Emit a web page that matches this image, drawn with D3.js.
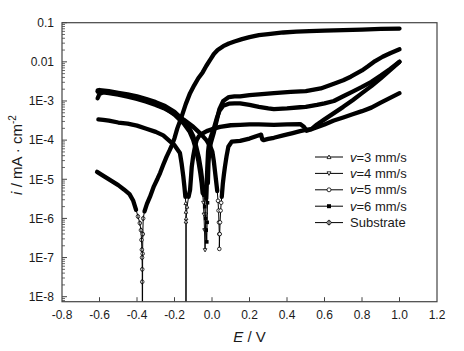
<!DOCTYPE html>
<html><head><meta charset="utf-8">
<script src="https://cdn.jsdelivr.net/npm/d3@7"></script>
<style>body{margin:0;background:#fff}svg{display:block}text{font-family:"Liberation Sans",Arial,sans-serif;fill:#1a1a1a}</style>
</head><body>
<svg id="c" width="464" height="351"></svg>
<script>
// ---- data: [E (V), log10(i / mA cm^-2)] ----
const xTickValues = [-0.8,-0.6,-0.4,-0.2,0.0,0.2,0.4,0.6,0.8,1.0,1.2];
const yTickValues = [1e-8,1e-7,1e-6,1e-5,1e-4,1e-3,0.01,0.1];
const yTickLabels = ["1E-8","1E-7","1E-6","1E-5","1E-4","1E-3","0.01","0.1"];
const seriesNames = ["v=3 mm/s","v=4 mm/s","v=5 mm/s","v=6 mm/s","Substrate"];

const v3 = [[-0.606,-3.47],[-0.58,-3.48],[-0.55,-3.50],[-0.5,-3.55],[-0.45,-3.58],[-0.4,-3.63],[-0.35,-3.71],[-0.3,-3.79],[-0.26,-3.88],[-0.224,-4.03],[-0.2,-4.13],[-0.187,-4.22],[-0.171,-4.33],[-0.162,-4.6],[-0.153,-4.93],[-0.147,-5.2],[-0.142,-5.45],[-0.140,-5.61],[-0.139,-5.83],[-0.139,-6.08],[-0.139,-10],[-0.138,-6.0],[-0.133,-5.7],[-0.125,-5.45],[-0.117,-5.27],[-0.112,-4.95],[-0.108,-4.68],[-0.1,-4.4],[-0.091,-4.17],[-0.082,-4.0],[-0.07,-3.9],[-0.05,-3.83],[-0.028,-3.77],[0.0,-3.72],[0.043,-3.66],[0.1,-3.62],[0.15,-3.61],[0.2,-3.6],[0.25,-3.6],[0.33,-3.61],[0.4,-3.6],[0.47,-3.59],[0.49,-3.66],[0.505,-3.76],[0.53,-3.72],[0.56,-3.6],[0.6,-3.47],[0.65,-3.31],[0.7,-3.15],[0.75,-2.98],[0.8,-2.8],[0.85,-2.62],[0.9,-2.42],[0.95,-2.21],[1.0,-2.0]];

const v4 = [[-0.61,-2.73],[-0.58,-2.76],[-0.55,-2.78],[-0.5,-2.82],[-0.45,-2.86],[-0.4,-2.92],[-0.35,-2.98],[-0.3,-3.06],[-0.25,-3.18],[-0.2,-3.35],[-0.15,-3.58],[-0.12,-3.78],[-0.1,-4.0],[-0.085,-4.25],[-0.072,-4.55],[-0.062,-4.85],[-0.055,-5.1],[-0.05,-5.35],[-0.046,-5.6],[-0.043,-5.9],[-0.04,-6.3],[-0.037,-6.81],[-0.035,-6.3],[-0.033,-5.9],[-0.031,-5.5],[-0.028,-5.1],[-0.025,-4.7],[-0.021,-4.3],[-0.015,-4.05],[-0.005,-3.9],[0.01,-3.7],[0.025,-3.45],[0.04,-3.25],[0.06,-3.12],[0.09,-3.07],[0.12,-3.06],[0.15,-3.06],[0.2,-3.1],[0.25,-3.15],[0.3,-3.19],[0.33,-3.21],[0.4,-3.19],[0.47,-3.16],[0.5,-3.15],[0.56,-3.1],[0.6,-3.06],[0.65,-3.0],[0.7,-2.88],[0.75,-2.76],[0.8,-2.64],[0.85,-2.51],[0.9,-2.35],[0.95,-2.18],[1.0,-2.0]];

const v5 = [[-0.61,-2.93],[-0.6,-2.82],[-0.58,-2.78],[-0.55,-2.8],[-0.5,-2.84],[-0.45,-2.89],[-0.4,-2.95],[-0.35,-3.02],[-0.3,-3.1],[-0.25,-3.2],[-0.2,-3.33],[-0.15,-3.48],[-0.1,-3.66],[-0.06,-3.84],[-0.03,-4.0],[-0.01,-4.15],[0.002,-4.3],[0.01,-4.55],[0.016,-4.8],[0.022,-5.05],[0.028,-5.3],[0.032,-5.55],[0.035,-5.8],[0.037,-6.1],[0.039,-6.4],[0.039,-6.78],[0.041,-6.4],[0.043,-6.1],[0.046,-5.8],[0.049,-5.6],[0.052,-5.45],[0.058,-5.1],[0.063,-4.9],[0.069,-4.68],[0.078,-4.4],[0.087,-4.17],[0.105,-4.04],[0.15,-4.02],[0.2,-3.96],[0.235,-3.9],[0.255,-3.87],[0.262,-3.86],[0.268,-3.98],[0.275,-4.0],[0.3,-3.97],[0.33,-3.94],[0.38,-3.88],[0.43,-3.82],[0.47,-3.77],[0.5,-3.74],[0.53,-3.72],[0.56,-3.67],[0.6,-3.6],[0.65,-3.5],[0.7,-3.42],[0.75,-3.34],[0.8,-3.26],[0.85,-3.17],[0.9,-3.04],[0.95,-2.92],[1.0,-2.80]];

const v6 = [[-0.61,-2.76],[-0.6,-2.72],[-0.55,-2.75],[-0.5,-2.79],[-0.45,-2.83],[-0.4,-2.88],[-0.35,-2.95],[-0.3,-3.03],[-0.25,-3.13],[-0.2,-3.28],[-0.15,-3.5],[-0.12,-3.7],[-0.1,-3.9],[-0.085,-4.15],[-0.07,-4.45],[-0.058,-4.8],[-0.05,-5.1],[-0.044,-5.4],[-0.039,-5.7],[-0.034,-6.0],[-0.031,-6.3],[-0.028,-6.6],[-0.026,-6.1],[-0.024,-5.6],[-0.022,-5.1],[-0.019,-4.6],[-0.014,-4.25],[-0.005,-4.05],[0.01,-3.8],[0.025,-3.5],[0.04,-3.2],[0.06,-3.0],[0.09,-2.9],[0.12,-2.88],[0.15,-2.88],[0.2,-2.85],[0.25,-2.83],[0.33,-2.8],[0.42,-2.77],[0.5,-2.75],[0.58,-2.68],[0.65,-2.56],[0.7,-2.47],[0.74,-2.38],[0.8,-2.22],[0.83,-2.12],[0.87,-1.98],[0.91,-1.87],[0.95,-1.78],[1.0,-1.68]];

const substrate = [[-0.613,-4.81],[-0.59,-4.88],[-0.56,-4.97],[-0.53,-5.06],[-0.5,-5.15],[-0.47,-5.26],[-0.44,-5.38],[-0.42,-5.55],[-0.405,-5.78],[-0.395,-5.95],[-0.385,-6.12],[-0.379,-6.3],[-0.376,-6.55],[-0.374,-6.8],[-0.373,-7.0],[-0.372,-7.3],[-0.372,-7.62],[-0.371,-10],[-0.370,-6.9],[-0.369,-6.4],[-0.367,-6.0],[-0.36,-5.82],[-0.347,-5.63],[-0.331,-5.45],[-0.31,-5.18],[-0.29,-4.98],[-0.277,-4.84],[-0.26,-4.63],[-0.242,-4.42],[-0.225,-4.25],[-0.213,-4.12],[-0.2,-3.95],[-0.185,-3.7],[-0.162,-3.40],[-0.14,-3.08],[-0.117,-2.80],[-0.095,-2.6],[-0.073,-2.42],[-0.05,-2.27],[-0.03,-2.1],[-0.01,-1.95],[0.01,-1.8],[0.03,-1.7],[0.06,-1.6],[0.09,-1.53],[0.12,-1.48],[0.16,-1.42],[0.2,-1.37],[0.25,-1.32],[0.3,-1.29],[0.38,-1.25],[0.45,-1.23],[0.52,-1.215],[0.6,-1.2],[0.7,-1.19],[0.8,-1.175],[0.9,-1.16],[1.0,-1.15]];

const seriesData = [v3, v4, v5, v6, substrate];
const markerTypes = ["triUp","triDown","circle","square","phi"];

// ---- layout ----
const L = 62, R = 437, T = 22.7, B = 301.7;
const svg = d3.select("#c");
const x = d3.scaleLinear().domain([-0.8, 1.2]).range([L, R]);
const y = d3.scaleLog().domain([Math.pow(10, -8.128), 0.1]).range([B, T]);

svg.append("defs").append("clipPath").attr("id","clip")
  .append("rect").attr("x",L).attr("y",T).attr("width",R-L).attr("height",B-T);

const thickMin = [3e-6, 3e-6, 3e-6, 3e-6, 1.2e-6];

function marker(g, type, cx, cy, s) {
  const h = s/2;
  if (type === "triUp") g.append("path").attr("d",`M${cx},${cy-h}L${cx+h},${cy+h*0.8}L${cx-h},${cy+h*0.8}Z`).attr("fill","#fff").attr("stroke","#000").attr("stroke-width",0.8);
  else if (type === "triDown") g.append("path").attr("d",`M${cx},${cy+h}L${cx+h},${cy-h*0.8}L${cx-h},${cy-h*0.8}Z`).attr("fill","#fff").attr("stroke","#000").attr("stroke-width",0.8);
  else if (type === "circle") g.append("circle").attr("cx",cx).attr("cy",cy).attr("r",h).attr("fill","#fff").attr("stroke","#000").attr("stroke-width",0.8);
  else if (type === "square") g.append("rect").attr("x",cx-h).attr("y",cy-h).attr("width",s).attr("height",s).attr("fill","#000");
  else { g.append("circle").attr("cx",cx).attr("cy",cy).attr("r",h).attr("fill","#fff").attr("stroke","#000").attr("stroke-width",0.8);
         g.append("line").attr("x1",cx).attr("x2",cx).attr("y1",cy-h-0.8).attr("y2",cy+h+0.8).attr("stroke","#000").attr("stroke-width",0.9); }
}

const plot = svg.append("g").attr("clip-path","url(#clip)");
seriesData.forEach((arr, k) => {
  const pts = arr.map(d => ({E: d[0], i: Math.pow(10, d[1])}));
  const line = d3.line().x(d => x(d.E)).y(d => y(Math.max(d.i, 1e-12)));
  plot.append("path").datum(pts).attr("d", line).attr("fill","none").attr("stroke","#000").attr("stroke-width",1);
  const thick = d3.line().defined(d => d.i >= thickMin[k]).x(d => x(d.E)).y(d => y(d.i)).curve(d3.curveMonotoneX);
  plot.append("path").datum(pts).attr("d", d3.line().defined(d => d.i >= thickMin[k]).x(d => x(d.E)).y(d => y(d.i))).attr("fill","none").attr("stroke","#000").attr("stroke-width",4.3).attr("stroke-linejoin","round").attr("stroke-linecap","round");
  const mg = plot.append("g");
  pts.filter(d => d.i < thickMin[k] && d.i > 1e-9).forEach(d => marker(mg, markerTypes[k], x(d.E), y(d.i), 3.6));
});

// ---- frame ----
svg.append("rect").attr("x",L).attr("y",T).attr("width",R-L).attr("height",B-T).attr("fill","none").attr("stroke","#444").attr("stroke-width",1.2);

// x ticks (inward)
const xg = svg.append("g");
xTickValues.forEach(v => {
  if (v > -0.8 && v < 1.2) xg.append("line").attr("x1",x(v)).attr("x2",x(v)).attr("y1",B).attr("y2",B-4.5).attr("stroke","#444").attr("stroke-width",1);
  xg.append("text").attr("x",x(v)).attr("y",B+17.5).attr("text-anchor","middle").attr("font-size",12).text(v.toFixed(1));
});
// y ticks (inward, with log minor ticks)
const yg = svg.append("g");
yTickValues.forEach((v, k) => {
  yg.append("line").attr("x1",L).attr("x2",L+5).attr("y1",y(v)).attr("y2",y(v)).attr("stroke","#444").attr("stroke-width",1);
  yg.append("text").attr("x",L-8).attr("y",y(v)+4.3).attr("text-anchor","end").attr("font-size",12).text(yTickLabels[k]);
});
for (let e = -9; e <= -2; e++) {
  for (let m = 2; m <= 9; m++) {
    const v = m * Math.pow(10, e);
    if (v < y.domain()[0] || v > 0.1) continue;
    yg.append("line").attr("x1",L).attr("x2",L+3).attr("y1",y(v)).attr("y2",y(v)).attr("stroke","#444").attr("stroke-width",0.8);
  }
}

// axis titles
const xt = svg.append("text").attr("x",(L+R)/2).attr("y",342).attr("text-anchor","middle").attr("font-size",15);
xt.append("tspan").attr("font-style","italic").text("E");
xt.append("tspan").text(" / V");
const yt = svg.append("text").attr("transform","translate(22,155) rotate(-90)").attr("text-anchor","middle").attr("font-size",15);
yt.append("tspan").attr("font-style","italic").text("i");
yt.append("tspan").text(" / mA · cm");
yt.append("tspan").attr("font-size",10).attr("dy",-6).text("-2");

// legend
const lg = svg.append("g");
seriesNames.forEach((name, k) => {
  const cy = 157 + k * 16.4;
  lg.append("line").attr("x1",315).attr("x2",343).attr("y1",cy).attr("y2",cy).attr("stroke","#000").attr("stroke-width",1);
  marker(lg, markerTypes[k], 329, cy, 4);
  const t = lg.append("text").attr("x",350).attr("y",cy+4.6).attr("font-size",13);
  if (name.startsWith("v=")) { t.append("tspan").attr("font-style","italic").text("v"); t.append("tspan").text(name.slice(1)); }
  else t.text(name);
});
</script>
</body></html>
